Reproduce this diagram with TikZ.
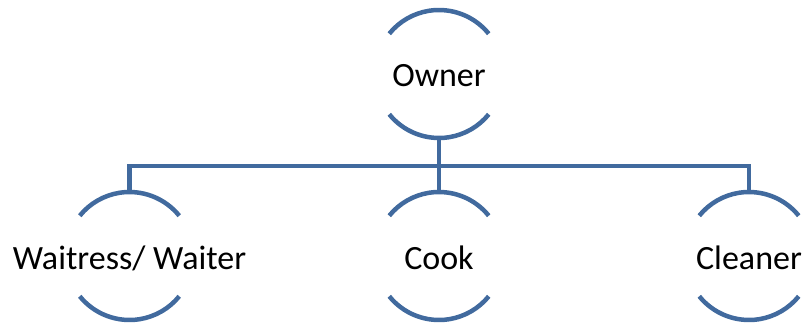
\documentclass[tikz,border=0pt]{standalone}
\usepackage{fontspec}
\setmainfont{Carlito}
\definecolor{arcblue}{RGB}{65,106,158}
\tikzset{
  member/.style={rectangle, minimum height=128pt, minimum width=10pt, inner sep=0pt, font=\fontsize{34pt}{40pt}\selectfont, text=black},
  label/.style={font=\fontsize{34pt}{40pt}\selectfont, text=black, inner sep=0pt},
  arcline/.style={draw=arcblue, line width=4.5pt},
  link/.style={draw=arcblue, line width=4.5pt}
}
\newcommand{\halfarcs}[1]{%
  \draw[arcline] ([shift={(39:64pt)}]#1.center) arc (39:141:64pt);
  \draw[arcline] ([shift={(219:64pt)}]#1.center) arc (219:321:64pt);
}
\begin{document}
\begin{tikzpicture}[x=1pt,y=1pt]
\useasboundingbox (0,0) rectangle (805,322);
\node[member] (owner) at (439,248) {};
\node[member] (waiter) at (129.5,66) {};
\node[member] (cook) at (439,66) {};
\node[member] (cleaner) at (749,66) {};
\node[label] (ownerlab) at ([yshift=-2pt]owner.center) {Owner};
\node[label] (waiterlab) at ([yshift=-2pt]waiter.center) {Waitress/ Waiter};
\node[label] (cooklab) at ([yshift=-2pt]cook.center) {Cook};
\node[label] (cleanerlab) at ([yshift=-2pt]cleaner.center) {Cleaner};
\halfarcs{owner}
\halfarcs{waiter}
\halfarcs{cook}
\halfarcs{cleaner}
\coordinate (bus) at (439,156);
\draw[link] (owner.south) -- (bus);
\draw[link] (bus) -| (waiter.north);
\draw[link] (bus) -| (cleaner.north);
\draw[link] (bus) -- (cook.north);
\end{tikzpicture}
\end{document}
